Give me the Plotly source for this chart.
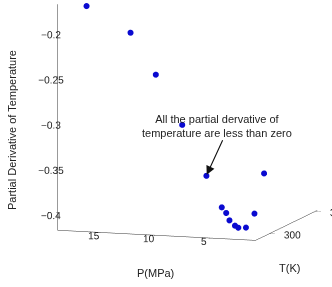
import plotly.graph_objects as go

# Data (P in MPa, T in K, partial derivative of temperature)
pressure = [16.7, 12.7, 10.4, 8.0, 5.8, 4.4, 4.0, 3.7, 3.2, 2.9, 2.2, 3.1, 3.9]
temperature = [290, 290, 290, 290, 290, 290, 290, 290, 290, 290, 290, 310, 330]
partial_deriv = [-0.173, -0.200, -0.245, -0.299, -0.354, -0.388, -0.394,
                 -0.402, -0.4075, -0.4096, -0.409, -0.404, -0.370]

p_ticks = [5, 10, 15]
t_ticks = [300, 350]
z_ticks = [-0.4, -0.35, -0.3, -0.25, -0.2]

note = "All the partial dervative of<br>temperature are less than zero"

font = dict(family="Liberation Sans, Arial, sans-serif", size=11, color="#222")

fig = go.Figure(go.Scatter3d(
    x=pressure, y=temperature, z=partial_deriv,
    mode="markers",
    marker=dict(size=3.5, color="#0a0ad0", line=dict(width=0)),
    showlegend=False,
))

axis_common = dict(showgrid=False, showbackground=False, zeroline=False,
                   showline=True, linecolor="#333", linewidth=1,
                   ticks="outside", tickcolor="#333", ticklen=4,
                   showspikes=False, tickfont=font, tickangle=0,
                   title=dict(text=""))

d = (0.305, -0.940, 0.158)
cen = (-0.130, -0.084, -0.249)
k = 2.0
zoom = 1.45

fig.update_layout(
    width=332, height=287,
    margin=dict(l=0, r=0, t=0, b=0),
    paper_bgcolor="white",
    font=font,
    scene=dict(
        domain=dict(x=[0, 1], y=[0, 1]),
        xaxis=dict(axis_common, range=[18.9, 0.9], tickvals=p_ticks, ticklen=6),
        yaxis=dict(axis_common, range=[285, 352], tickvals=t_ticks),
        zaxis=dict(axis_common, range=[-0.42, -0.17], tickvals=z_ticks),
        aspectmode="manual",
        aspectratio=dict(x=1.0 * zoom, y=0.96 * zoom, z=1.10 * zoom),
        camera=dict(
            projection=dict(type="orthographic"),
            eye=dict(x=cen[0] + d[0] * k, y=cen[1] + d[1] * k, z=cen[2] + d[2] * k),
            up=dict(x=0, y=0, z=1),
            center=dict(x=cen[0], y=cen[1], z=cen[2]),
        ),
        annotations=[
            dict(x=pressure[4], y=temperature[4], z=partial_deriv[4],
                 text="", showarrow=True, arrowhead=2, arrowsize=1.6,
                 arrowwidth=1.1, arrowcolor="#111", ax=17, ay=-37, standoff=1),
            dict(x=pressure[4], y=temperature[4], z=partial_deriv[4],
                 text=note, showarrow=False, xshift=11, yshift=50, font=font),
        ],
    ),
    annotations=[
        dict(text="Partial Derivative of Temperature", textangle=-90,
             x=12, y=287 - 130, xref="paper", yref="paper", showarrow=False,
             xanchor="center", yanchor="middle", font=font),
        dict(text="P(MPa)", x=155, y=287 - 273, xref="paper", yref="paper",
             showarrow=False, xanchor="center", yanchor="middle", font=font),
        dict(text="T(K)", x=289, y=287 - 268, xref="paper", yref="paper",
             showarrow=False, xanchor="center", yanchor="middle", font=font),
    ],
)
# convert pixel positions of titles to paper fractions
for a in fig.layout.annotations:
    a.x = a.x / 332
    a.y = a.y / 287

fig.write_html("out.html")
